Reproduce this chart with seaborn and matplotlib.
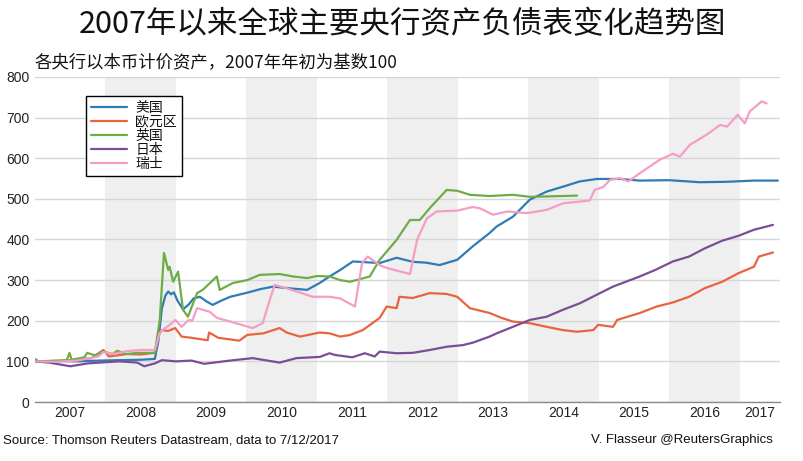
import matplotlib
matplotlib.use("Agg")
import matplotlib.pyplot as plt
import seaborn as sns
import pandas as pd

# ---------------- data (fractional year, index 2007 start = 100) ----------------
us_t = [2007.0, 2007.3, 2007.6, 2007.9, 2008.2, 2008.5, 2008.70, 2008.75, 2008.80, 2008.85, 2008.89,
        2008.93, 2008.97, 2009.02, 2009.10, 2009.18, 2009.25, 2009.34, 2009.43, 2009.52, 2009.65,
        2009.77, 2010.01, 2010.2, 2010.38, 2010.6, 2010.86, 2011.04, 2011.18, 2011.33, 2011.51,
        2011.7, 2011.89, 2012.13, 2012.36, 2012.55, 2012.74, 2012.99, 2013.21, 2013.45, 2013.55,
        2013.78, 2014.02, 2014.26, 2014.49, 2014.73, 2014.97, 2015.30, 2015.58, 2016.0, 2016.43,
        2016.8, 2017.2, 2017.54]
us_v = [100, 101, 100, 102, 103, 104, 106, 150, 230, 262, 272,
        265, 270, 250, 228, 240, 255, 259, 248, 239, 250,
        259, 269, 278, 284, 280, 276, 293, 309, 325, 346,
        344, 342, 355, 345, 343, 337, 350, 383, 416, 432,
        456, 498, 518, 530, 543, 549, 549, 545, 546, 541,
        542, 545, 545]

ez_t = [2007.0, 2007.2, 2007.5, 2007.8, 2007.97, 2008.05, 2008.3, 2008.5, 2008.70, 2008.75, 2008.80,
        2008.89, 2008.99, 2009.08, 2009.22, 2009.45, 2009.47, 2009.60, 2009.90, 2010.01, 2010.24,
        2010.47, 2010.57, 2010.76, 2011.04, 2011.18, 2011.33, 2011.47, 2011.65, 2011.89, 2011.99,
        2012.13, 2012.17, 2012.36, 2012.6, 2012.84, 2012.99, 2013.17, 2013.45, 2013.62, 2013.78,
        2014.02, 2014.26, 2014.49, 2014.69, 2014.92, 2014.99, 2015.2, 2015.26, 2015.58, 2015.82,
        2016.05, 2016.28, 2016.5, 2016.75, 2016.98, 2017.2, 2017.27, 2017.47]
ez_v = [100, 99, 103, 108, 128, 112, 118, 117, 121, 165, 177,
        175, 182, 161, 158, 152, 171, 158, 151, 165, 169,
        182, 171, 161, 171, 169, 161, 165, 177, 207, 235,
        231, 259, 256, 268, 266, 259, 231, 219, 207, 198,
        194, 185, 177, 173, 177, 190, 185, 202, 219, 235,
        245, 259, 280, 296, 317, 333, 358, 368]

uk_t = [2007.0, 2007.05, 2007.45, 2007.49, 2007.52, 2007.7, 2007.74, 2007.85, 2007.97, 2008.1, 2008.17,
        2008.3, 2008.45, 2008.70, 2008.77, 2008.83, 2008.89, 2008.91, 2008.96, 2009.03, 2009.10,
        2009.17, 2009.30, 2009.38, 2009.58, 2009.62, 2009.81, 2010.01, 2010.19, 2010.47, 2010.66,
        2010.86, 2011.0, 2011.18, 2011.33, 2011.47, 2011.75, 2011.89, 2012.13, 2012.32, 2012.46,
        2012.60, 2012.84, 2012.99, 2013.17, 2013.45, 2013.78, 2014.02, 2014.26, 2014.69]
uk_v = [106, 100, 103, 121, 104, 110, 121, 115, 124, 118, 126,
        118, 121, 121, 202, 367, 325, 333, 296, 321, 227,
        210, 268, 276, 309, 276, 293, 300, 313, 315, 309,
        305, 310, 309, 300, 296, 309, 350, 399, 448, 448,
        477, 522, 520, 510, 507, 510, 505, 506, 508]

jp_t = [2007.0, 2007.2, 2007.5, 2007.75, 2008.0, 2008.2, 2008.45, 2008.55, 2008.7, 2008.80, 2009.0,
        2009.22, 2009.40, 2009.77, 2010.09, 2010.47, 2010.71, 2011.04, 2011.18, 2011.25, 2011.5,
        2011.68, 2011.82, 2011.89, 2012.13, 2012.36, 2012.60, 2012.84, 2013.07, 2013.21, 2013.45,
        2013.55, 2013.78, 2014.02, 2014.26, 2014.49, 2014.73, 2014.97, 2015.2, 2015.58, 2015.8,
        2016.05, 2016.28, 2016.5, 2016.75, 2016.98, 2017.2, 2017.47]
jp_v = [100, 97, 88, 95, 98, 100, 97, 88, 95, 103, 100,
        102, 94, 102, 108, 97, 108, 111, 120, 116, 110,
        120, 112, 124, 120, 121, 128, 136, 140, 146, 161,
        169, 185, 202, 210, 227, 243, 264, 284, 309, 325,
        346, 358, 378, 397, 409, 424, 436]

ch_t = [2007.0, 2007.3, 2007.6, 2007.9, 2007.97, 2008.1, 2008.3, 2008.5, 2008.70, 2008.77, 2008.80,
        2008.94, 2008.99, 2009.08, 2009.18, 2009.23, 2009.30, 2009.48, 2009.58, 2009.77, 2010.09,
        2010.23, 2010.33, 2010.40, 2010.57, 2010.94, 2011.18, 2011.33, 2011.54, 2011.64, 2011.72,
        2011.89, 2011.99, 2012.32, 2012.42, 2012.56, 2012.70, 2012.99, 2013.21, 2013.31, 2013.45,
        2013.50, 2013.70, 2013.98, 2014.26, 2014.49, 2014.87, 2014.94, 2015.06, 2015.16, 2015.30,
        2015.42, 2015.58, 2015.86, 2016.05, 2016.15, 2016.29, 2016.53, 2016.72, 2016.82, 2016.97,
        2017.07, 2017.14, 2017.31, 2017.38]
ch_v = [100, 99, 102, 112, 123, 118, 125, 128, 128, 170, 176,
        194, 202, 185, 202, 200, 231, 222, 207, 198, 182,
        194, 251, 288, 280, 259, 259, 255, 235, 342, 358,
        337, 330, 315, 399, 452, 469, 471, 480, 477, 465,
        461, 469, 465, 473, 489, 496, 522, 529, 547, 551,
        543, 563, 596, 611, 604, 633, 658, 682, 678, 707,
        686, 715, 740, 735]

names = ["美国", "欧元区", "英国", "日本", "瑞士"]
colors = ["#2f7bb5", "#e8643f", "#6cad47", "#7b4d96", "#f49dc6"]
years = list(range(2007, 2018))
shaded_years = [2008, 2010, 2012, 2014, 2016]
y_ticks = [0, 100, 200, 300, 400, 500, 600, 700, 800]
x_end = 2017.57

series = [(us_t, us_v), (ez_t, ez_v), (uk_t, uk_v), (jp_t, jp_v), (ch_t, ch_v)]
frames = []
for n, (t, v) in zip(names, series):
    frames.append(pd.DataFrame({"t": t, "v": v, "bank": n}))
df = pd.concat(frames, ignore_index=True)

# ---------------- style ----------------
sns.set_theme(style="white")
plt.rcParams["font.family"] = ["Liberation Sans", "Noto Sans CJK SC", "DejaVu Sans"]
cjk = ["Noto Sans CJK SC", "DejaVu Sans"]

fig = plt.figure(figsize=(8.04, 4.61), dpi=100)
ax = fig.add_axes([35 / 804, 1 - 402 / 461, 745 / 804, 325 / 461])

for y in shaded_years:
    ax.axvspan(y, y + 1, color="#efefef", lw=0, zorder=0)

sns.lineplot(data=df, x="t", y="v", hue="bank", hue_order=names,
             palette=colors, linewidth=1.6, ax=ax, legend=False, sort=False, zorder=3)

ax.set_xlim(2007, x_end)
ax.set_ylim(0, 800)
ax.set_yticks(y_ticks)
ax.set_yticklabels([str(v) for v in y_ticks], fontsize=10, color="#222222")
ax.yaxis.grid(True, color="#d6d6d6", linewidth=1)
ax.xaxis.grid(False)
ax.set_axisbelow(True)

xt = [y + 0.5 for y in years[:-1]] + [(years[-1] + x_end) / 2]
ax.set_xticks(xt)
ax.set_xticklabels([str(y) for y in years], fontsize=10, color="#222222")
ax.tick_params(axis="both", length=0, pad=3)
ax.tick_params(axis="y", pad=4)
for s in ["left", "right", "top"]:
    ax.spines[s].set_visible(False)
ax.spines["bottom"].set_color("#8a8a8a")
ax.spines["bottom"].set_linewidth(1.0)
ax.set_xlabel("")
ax.set_ylabel("")

handles = [plt.Line2D([0], [0], color=c, lw=1.6) for c in colors]
leg = ax.legend(handles, names, loc="upper left", bbox_to_anchor=((86 - 35) / 745, (402 - 96) / 325),
                frameon=True, fancybox=False, edgecolor="black", framealpha=1,
                prop={"family": cjk, "size": 10}, handlelength=2.6, handletextpad=0.6,
                labelspacing=0.0, borderpad=0.35, borderaxespad=0)
leg.get_frame().set_linewidth(1.0)
for txt in leg.get_texts():
    txt.set_color("#111111")

fig.text(0.5, 1 - 25 / 461, "2007年以来全球主要央行资产负债表变化趋势图", ha="center", va="center",
         fontsize=22, family=cjk, color="#111111")
fig.text(35 / 804, 1 - 62 / 461, "各央行以本币计价资产，2007年年初为基数100", ha="left", va="center",
         fontsize=12.5, family=cjk, color="#111111")
fig.text(3 / 804, 1 - 440 / 461, "Source: Thomson Reuters Datastream, data to 7/12/2017", ha="left",
         va="center", fontsize=9.5, color="#111111")
fig.text(773 / 804, 1 - 440 / 461, "V. Flasseur @ReutersGraphics", ha="right", va="center",
         fontsize=9.5, color="#111111")

fig.savefig("out.png", dpi=100)
